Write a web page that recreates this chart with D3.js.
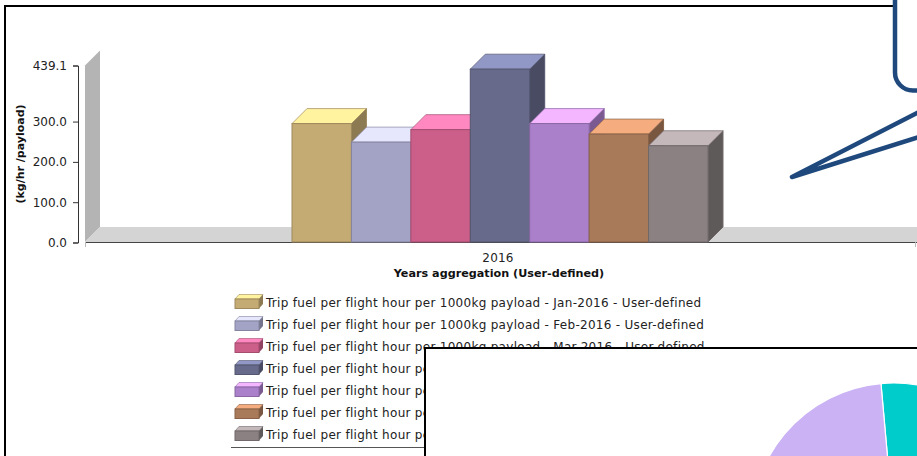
<!DOCTYPE html>
<html>
<head>
<meta charset="utf-8">
<script src="https://cdn.jsdelivr.net/npm/d3@7"></script>
<style>
html,body{margin:0;padding:0;background:#fff;overflow:hidden}
svg{display:block}
text{font-family:"DejaVu Sans",sans-serif;fill:#222}
</style>
</head>
<body>
<svg id="chart" width="917" height="456"></svg>
<script>
const years = ["2016"];
const months = ["Jan", "Feb", "Mar", "Apr", "May", "Jun", "Jul"];
const fuelValues = [295, 249, 280, 430, 295, 269, 240];
const yTicks = [0, 100, 200, 300, 439.1];
const frontColors = ["#c4aa73", "#a3a3c6", "#cb5f8a", "#676a8a", "#ab80cb", "#a97a59", "#8b8183"];
const topColors = ["#fff3a0", "#e6e6fc", "#ff88c0", "#9198c5", "#f3b6ff", "#f5ac7e", "#c4b8bb"];
const sideColors = ["#8b7a52", "#74748c", "#904362", "#484b62", "#7a5a90", "#78563f", "#5f5a5a"];
const pieShares = [50, 50];
const pieColors = ["#00cccc", "#cab2f5"];

const svg = d3.select("#chart");
const depth = 15;
const axisY = 242;
const plotLeft = 85, plotRight = 915;

const y = d3.scaleLinear().domain([0, 439.1]).range([axisY + 0.5, 65.5]);
const xYear = d3.scaleBand().domain(years).range([plotLeft, plotRight]);
const mid = xYear("2016") + xYear.bandwidth() / 2;
const xMonth = d3.scaleBand().domain(months).range([mid - 208, mid + 208]);

const poly = pts => pts.map(p => p.join(",")).join(" ");

// back wall and floor of the 3D plot area
svg.append("polygon").attr("fill", "#b4b4b4")
  .attr("points", poly([[plotLeft, y(439.1)], [plotLeft + depth, y(439.1) - depth], [plotLeft + depth, axisY - depth], [plotLeft, axisY]]));
svg.append("polygon").attr("fill", "#d4d4d4")
  .attr("points", poly([[plotLeft, axisY], [plotLeft + depth, axisY - depth], [917, axisY - depth], [917, axisY]]));

// axes
const yAxis = svg.append("g").attr("transform", "translate(78,0)")
  .call(d3.axisLeft(y).tickValues(yTicks).tickFormat(d3.format(".1f")).tickSize(5).tickPadding(6));
yAxis.selectAll("text").style("font-size", "12px");
yAxis.selectAll("line,path").attr("stroke", "#333");

const xAxis = svg.append("g").attr("transform", `translate(-2,${axisY})`)
  .call(d3.axisBottom(xYear).tickSize(0).tickPadding(11));
xAxis.select("path").remove();
xAxis.selectAll("text").style("font-size", "12px").style("letter-spacing", "0.2px");
svg.append("line").attr("x1", plotLeft).attr("x2", 917).attr("y1", axisY + 0.5).attr("y2", axisY + 0.5).attr("stroke", "#444");
[plotLeft, plotRight].forEach(x => svg.append("line")
  .attr("x1", x + 0.5).attr("x2", x + 0.5).attr("y1", axisY).attr("y2", axisY + 5).attr("stroke", "#bbb"));

svg.append("text").attr("transform", "translate(24,154) rotate(-90)").attr("text-anchor", "middle")
  .style("font-size", "11px").style("font-weight", "bold").style("fill", "#111").text("(kg/hr /payload)");
svg.append("text").attr("x", 499).attr("y", 277).attr("text-anchor", "middle")
  .style("font-size", "11.2px").style("font-weight", "bold").style("fill", "#111").text("Years aggregation (User-defined)");

// extruded bars, painted left to right so each top overlaps the previous side
const bars = svg.append("g").selectAll("g").data(months).join("g");
bars.each(function (m, i) {
  const g = d3.select(this);
  const x0 = xMonth(m), x1 = x0 + xMonth.bandwidth(), t = y(fuelValues[i]);
  const edge = d3.color(frontColors[i]).darker(0.6).formatHex();
  g.append("polygon").attr("fill", sideColors[i]).attr("stroke", edge)
    .attr("points", poly([[x1, t], [x1 + depth, t - depth], [x1 + depth, axisY - depth], [x1, axisY]]));
  g.append("polygon").attr("fill", topColors[i]).attr("stroke", edge).attr("stroke-opacity", 0.7)
    .attr("points", poly([[x0, t], [x0 + depth, t - depth], [x1 + depth, t - depth], [x1, t]]));
  g.append("rect").attr("x", x0).attr("y", t).attr("width", x1 - x0).attr("height", axisY - t)
    .attr("fill", frontColors[i]).attr("stroke", edge);
});

// legend with small box swatches
const legendY = d3.scaleBand().domain(months).range([292, 446]);
const legend = svg.append("g").selectAll("g").data(months).join("g")
  .attr("transform", m => `translate(235,${legendY(m) + legendY.bandwidth() / 2})`);
legend.each(function (m, i) {
  const g = d3.select(this);
  const edge = d3.color(frontColors[i]).darker(0.6).formatHex();
  g.append("polygon").attr("fill", topColors[i]).attr("stroke", edge).attr("stroke-opacity", 0.6)
    .attr("points", poly([[0, -4], [4, -8.5], [28, -8.5], [24, -4]]));
  g.append("polygon").attr("fill", sideColors[i])
    .attr("points", poly([[24, -4], [28, -8.5], [28, 1], [24, 5.5]]));
  g.append("rect").attr("y", -4).attr("width", 24).attr("height", 9.5)
    .attr("fill", frontColors[i]).attr("stroke", edge);
  g.append("text").attr("x", 31).attr("y", 4).style("font-size", "12px").style("letter-spacing", "0.29px")
    .text(`Trip fuel per flight hour per 1000kg payload - ${m}-2016 - User-defined`);
});
svg.append("line").attr("x1", 231).attr("x2", 426).attr("y1", 447.5).attr("y2", 447.5).attr("stroke", "#555");

// outer frame
svg.append("path").attr("d", "M5,456V6H917").attr("fill", "none").attr("stroke", "#000").attr("stroke-width", 2);

// callout bubble and pointer
svg.append("rect").attr("x", 895).attr("y", -30).attr("width", 60).attr("height", 120.5).attr("rx", 18)
  .attr("fill", "#fff").attr("stroke", "#1f497d").attr("stroke-width", 4.5);
svg.append("path").attr("d", "M925,109L792,177L925,135")
  .attr("fill", "none").attr("stroke", "#1f497d").attr("stroke-width", 4.5)
  .attr("stroke-linecap", "round").attr("stroke-linejoin", "round");

// overlapping panel with the pie
svg.append("rect").attr("x", 425).attr("y", 348).attr("width", 520).attr("height", 140)
  .attr("fill", "#fff").attr("stroke", "#000").attr("stroke-width", 2);
const arcs = d3.pie().sort(null).startAngle(-0.089).endAngle(2 * Math.PI - 0.089)(pieShares);
svg.append("g").attr("transform", "translate(893.6,525)").selectAll("path").data(arcs).join("path")
  .attr("d", d3.arc().innerRadius(0).outerRadius(142))
  .attr("fill", (d, i) => pieColors[i]).attr("stroke", "#fff").attr("stroke-width", 1.2);
</script>
</body>
</html>
